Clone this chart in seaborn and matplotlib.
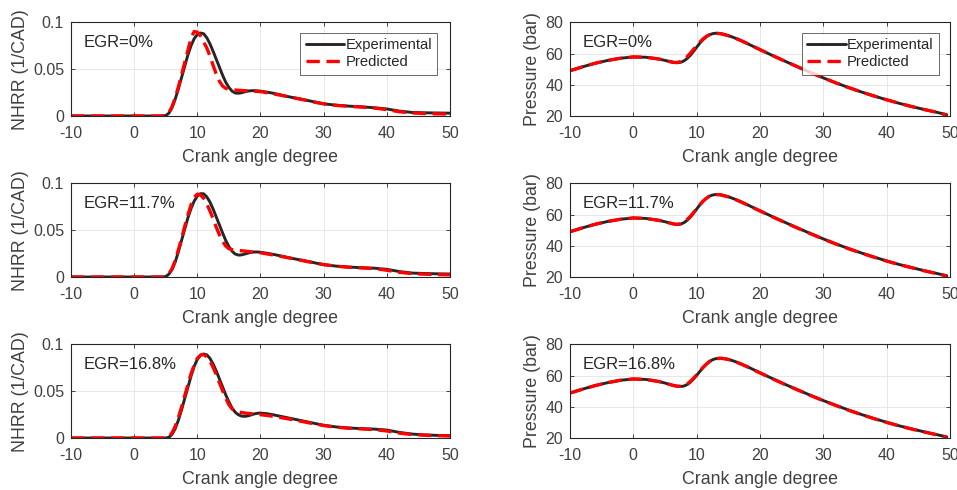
import matplotlib
matplotlib.use("Agg")
import matplotlib.pyplot as plt
import numpy as np
import pandas as pd
import seaborn as sns

sns.set_style("white")
plt.rcParams["font.family"] = ["Liberation Sans", "DejaVu Sans"]
plt.rcParams["axes.unicode_minus"] = False

# crank angle grids
ca_hrr = [-10, -5, 0, 4, 4.5, 5, 5.5, 6, 6.5, 7, 7.5, 8, 8.5, 9, 9.5, 10, 10.5, 11,
          11.5, 12, 12.5, 13, 13.5, 14, 14.5, 15, 15.5, 16, 16.5, 17, 17.5, 18, 18.5,
          19, 19.5, 20, 21, 22, 23, 24, 25, 26, 27, 28, 29, 30, 32, 34, 36, 38, 40,
          42, 44, 46, 48, 50]
ca_p = [-10, -8, -6, -4, -2, 0, 2, 4, 5, 6, 6.5, 7, 7.5, 8, 8.5, 9, 9.5, 10, 10.5,
        11, 11.5, 12, 12.5, 13, 13.5, 14, 15, 16, 17, 18, 20, 22, 24, 26, 28, 30,
        32, 34, 36, 38, 40, 42, 44, 46, 48, 49.5]

egr_labels = ["EGR=0%", "EGR=11.7%", "EGR=16.8%"]

# normalised heat release rate (1/CAD)
hrr_exp_0 = [0, 0, 0, 0, 0, 0.0005, 0.003, 0.009, 0.018, 0.029, 0.041, 0.053, 0.065,
             0.075, 0.0825, 0.087, 0.0886, 0.0878, 0.0835, 0.077, 0.069, 0.0605, 0.052,
             0.0435, 0.036, 0.0305, 0.0265, 0.0245, 0.0243, 0.0248, 0.0258, 0.0266,
             0.027, 0.027, 0.0268, 0.0265, 0.0255, 0.0243, 0.0228, 0.0212, 0.0198,
             0.0185, 0.0172, 0.0158, 0.0143, 0.013, 0.0115, 0.0105, 0.0098, 0.0088,
             0.0075, 0.0052, 0.0038, 0.0034, 0.0032, 0.003]
hrr_pred_0 = [0, 0, 0, 0, 0, 0.0008, 0.0035, 0.010, 0.0195, 0.031, 0.044, 0.057, 0.070,
              0.083, 0.0902, 0.0895, 0.0855, 0.079, 0.0726, 0.064, 0.054, 0.0445, 0.037,
              0.032, 0.0295, 0.0285, 0.028, 0.0277, 0.0274, 0.0272, 0.027, 0.0268,
              0.0266, 0.0264, 0.0262, 0.026, 0.0248, 0.0236, 0.0224, 0.0211, 0.0198,
              0.0184, 0.017, 0.0156, 0.0142, 0.013, 0.0113, 0.0103, 0.0095, 0.0085,
              0.0068, 0.0045, 0.0032, 0.0027, 0.0023, 0.002]
hrr_exp_117 = [0, 0, 0, 0, 0, 0.0005, 0.003, 0.008, 0.016, 0.027, 0.039, 0.051, 0.063,
               0.073, 0.081, 0.0865, 0.089, 0.0888, 0.0855, 0.080, 0.0725, 0.064, 0.0555,
               0.047, 0.039, 0.0325, 0.0275, 0.0245, 0.0234, 0.0236, 0.0245, 0.0255,
               0.0263, 0.0267, 0.0267, 0.0264, 0.0254, 0.0242, 0.0228, 0.0213, 0.0199,
               0.0186, 0.0173, 0.016, 0.0145, 0.0132, 0.0116, 0.0106, 0.0099, 0.0094,
               0.0082, 0.0058, 0.0042, 0.0037, 0.0034, 0.0032]
hrr_pred_117 = [0, 0, 0, 0, 0, 0.0007, 0.0035, 0.009, 0.0175, 0.029, 0.041, 0.054, 0.066,
                0.077, 0.085, 0.0885, 0.0875, 0.084, 0.078, 0.0705, 0.062, 0.053, 0.045,
                0.038, 0.033, 0.0302, 0.0292, 0.0287, 0.0283, 0.028, 0.0277, 0.0273,
                0.0269, 0.0265, 0.0262, 0.0258, 0.0247, 0.0235, 0.0223, 0.021, 0.0197,
                0.0184, 0.017, 0.0157, 0.0144, 0.0132, 0.0115, 0.0104, 0.0097, 0.009,
                0.0072, 0.005, 0.0036, 0.003, 0.0026, 0.0023]
hrr_exp_168 = [0, 0, 0, 0, 0, 0, 0.0008, 0.004, 0.01, 0.019, 0.030, 0.042, 0.054, 0.066,
               0.0765, 0.084, 0.0885, 0.0897, 0.0888, 0.085, 0.079, 0.0715, 0.063,
               0.0545, 0.046, 0.0385, 0.032, 0.0275, 0.0248, 0.0234, 0.0231, 0.0236,
               0.0246, 0.0257, 0.0264, 0.0266, 0.026, 0.0248, 0.0234, 0.022, 0.0206,
               0.0192, 0.0178, 0.0164, 0.015, 0.0136, 0.0118, 0.0107, 0.01, 0.0095,
               0.0085, 0.006, 0.0042, 0.0033, 0.0028, 0.0025]
hrr_pred_168 = [0, 0, 0, 0, 0, 0.0002, 0.0015, 0.0055, 0.0125, 0.022, 0.033, 0.045, 0.057,
                0.0685, 0.078, 0.085, 0.0885, 0.089, 0.0868, 0.082, 0.0755, 0.0675,
                0.059, 0.0505, 0.0425, 0.0355, 0.031, 0.0288, 0.0278, 0.0272, 0.0267,
                0.0263, 0.0259, 0.0255, 0.0252, 0.0249, 0.0241, 0.0232, 0.0221, 0.0209,
                0.0197, 0.0184, 0.0171, 0.0158, 0.0145, 0.0133, 0.0115, 0.0104, 0.0097,
                0.009, 0.0075, 0.0052, 0.0037, 0.003, 0.0025, 0.0022]

# in-cylinder pressure (bar)
p_exp_0 = [49, 51.5, 53.8, 55.6, 57, 57.8, 57.6, 56.5, 55.6, 54.6, 54.2, 54.1, 54.4,
           55.3, 56.8, 58.8, 61.3, 64, 66.6, 68.8, 70.6, 71.9, 72.7, 73, 72.9, 72.6,
           71.5, 70, 68.3, 66.4, 62.5, 58.7, 55, 51.4, 47.8, 44.4, 41.2, 38.2, 35.4,
           32.8, 30.4, 28.1, 26, 24.1, 22.3, 20.8]
p_pred_0 = [49, 51.5, 53.8, 55.6, 57, 57.8, 57.6, 56.5, 55.6, 54.6, 54.3, 54.3, 54.9,
            56.2, 58, 60.2, 62.6, 65, 67.3, 69.3, 70.9, 72, 72.7, 72.9, 72.8, 72.5,
            71.4, 70, 68.3, 66.4, 62.5, 58.7, 55, 51.4, 47.8, 44.4, 41.2, 38.2, 35.4,
            32.8, 30.4, 28.1, 26, 24.1, 22.3, 20.6]
p_exp_117 = [49, 51.5, 53.8, 55.6, 57, 57.8, 57.5, 56.3, 55.4, 54.3, 53.8, 53.6, 53.9,
             54.8, 56.3, 58.3, 60.8, 63.5, 66.1, 68.4, 70.3, 71.7, 72.5, 72.8, 72.8,
             72.5, 71.4, 69.9, 68.2, 66.3, 62.4, 58.6, 54.9, 51.3, 47.8, 44.4, 41.2,
             38.2, 35.4, 32.8, 30.3, 28, 26, 24, 22.2, 20.8]
p_pred_117 = [49, 51.5, 53.8, 55.6, 57, 57.8, 57.5, 56.3, 55.4, 54.3, 53.9, 53.8, 54.1,
              55.2, 56.8, 58.8, 61.2, 63.8, 66.3, 68.5, 70.3, 71.7, 72.5, 72.8, 72.7,
              72.4, 71.3, 69.8, 68.1, 66.2, 62.3, 58.5, 54.8, 51.2, 47.7, 44.3, 41.1,
              38.1, 35.3, 32.7, 30.2, 27.9, 25.9, 23.9, 22.1, 20.6]
p_exp_168 = [48.8, 51.3, 53.6, 55.5, 57, 57.8, 57.5, 56.2, 55.2, 54, 53.5, 53.1, 53,
             53.3, 54.2, 55.7, 57.7, 60.1, 62.6, 65, 67.1, 68.9, 70.1, 70.8, 71.1, 71.1,
             70.4, 69.1, 67.5, 65.7, 61.8, 58, 54.3, 50.8, 47.3, 44, 40.9, 37.9, 35.1,
             32.5, 30.1, 27.8, 25.8, 23.9, 22.1, 20.7]
p_pred_168 = [48.8, 51.3, 53.6, 55.5, 57, 57.8, 57.5, 56.2, 55.2, 54, 53.5, 53.2, 53.2,
              53.6, 54.6, 56.2, 58.2, 60.5, 62.9, 65.2, 67.2, 68.9, 70.1, 70.8, 71,
              71, 70.3, 69, 67.4, 65.6, 61.7, 57.9, 54.2, 50.7, 47.2, 43.9, 40.8, 37.8,
              35, 32.4, 30, 27.7, 25.7, 23.8, 22, 20.5]

hrr_series = [(hrr_exp_0, hrr_pred_0), (hrr_exp_117, hrr_pred_117),
              (hrr_exp_168, hrr_pred_168)]
p_series = [(p_exp_0, p_pred_0), (p_exp_117, p_pred_117), (p_exp_168, p_pred_168)]

exp_color = "#262626"
pred_color = "#ff0000"
text_color = "#404040"

fig = plt.figure(figsize=(9.57, 4.90), dpi=100)

# axes rectangles (left, bottom, width, height) in figure fractions
row_bottoms = [0.7633, 0.4347, 0.1061]
row_height = 0.1912
left_col = (0.0742, 0.396)
right_col = (0.5956, 0.397)


def style_axis(ax, ylabel, ylabel_x):
    ax.grid(True, color="#e3e3e3", linewidth=0.6)
    ax.set_axisbelow(True)
    for sp in ax.spines.values():
        sp.set_color(exp_color)
        sp.set_linewidth(0.8)
        sp.set_visible(True)
    ax.tick_params(direction="in", length=3, width=0.6, colors=exp_color,
                   labelcolor=text_color, labelsize=11.5, top=True, right=True,
                   bottom=True, left=True)
    ax.tick_params(axis="x", pad=7)
    ax.tick_params(axis="y", pad=5)
    ax.set_xlim(-10, 50)
    ax.set_xticks([-10, 0, 10, 20, 30, 40, 50])
    ax.set_xlabel("Crank angle degree", fontsize=12.8, color=text_color)
    ax.set_ylabel(ylabel, fontsize=12.8, color=text_color)
    ax.xaxis.set_label_coords(0.5, -0.355)
    ax.yaxis.set_label_coords(ylabel_x, 0.5)


def add_legend(ax, anchor):
    leg = ax.legend(loc="upper right", bbox_to_anchor=anchor,
                    borderaxespad=0, fontsize=10.6, frameon=True,
                    fancybox=False, handlelength=2.6, handletextpad=0.1,
                    borderpad=0.35, labelspacing=0.25)
    leg.get_frame().set_edgecolor(exp_color)
    leg.get_frame().set_linewidth(0.6)
    for t in leg.get_texts():
        t.set_color(exp_color)


for i in range(3):
    b = row_bottoms[i]

    ax = fig.add_axes([left_col[0], b, left_col[1], row_height])
    exp, pred = hrr_series[i]
    sns.lineplot(x=ca_hrr, y=exp, ax=ax, color=exp_color, linewidth=2.1,
                 label="Experimental")
    sns.lineplot(x=ca_hrr, y=pred, ax=ax, color=pred_color, linewidth=2.4,
                 label="Predicted")
    ax.lines[1].set_dashes((4, 2))
    ax.set_ylim(0, 0.1)
    ax.set_yticks([0, 0.05, 0.1])
    ax.set_yticklabels(["0", "0.05", "0.1"])
    style_axis(ax, "NHRR (1/CAD)", -0.112)
    ax.text(0.032, 0.78, egr_labels[i], transform=ax.transAxes, fontsize=12,
            color=exp_color, va="center", ha="left")
    if i == 0:
        add_legend(ax, (0.966, 0.89))
    else:
        ax.get_legend().remove()

    ax = fig.add_axes([right_col[0], b, right_col[1], row_height])
    exp, pred = p_series[i]
    sns.lineplot(x=ca_p, y=exp, ax=ax, color=exp_color, linewidth=2.1,
                 label="Experimental")
    sns.lineplot(x=ca_p, y=pred, ax=ax, color=pred_color, linewidth=2.4,
                 label="Predicted")
    ax.lines[1].set_dashes((4, 2))
    ax.set_ylim(20, 80)
    ax.set_yticks([20, 40, 60, 80])
    style_axis(ax, "Pressure (bar)", -0.076)
    ax.text(0.034, 0.78, egr_labels[i], transform=ax.transAxes, fontsize=12,
            color=exp_color, va="center", ha="left")
    if i == 0:
        add_legend(ax, (0.971, 0.89))
    else:
        ax.get_legend().remove()

fig.savefig("out.png", dpi=100)
